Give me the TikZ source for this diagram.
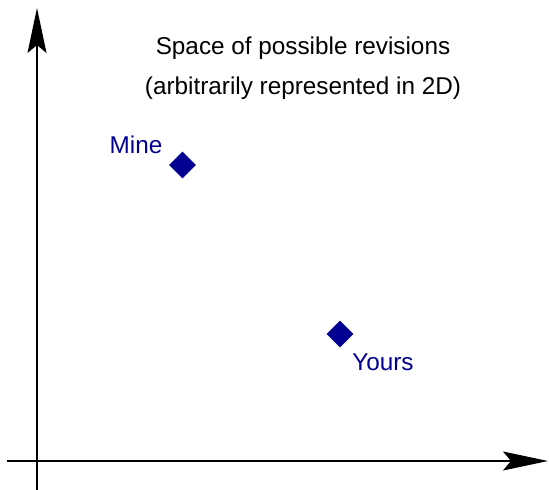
\documentclass[tikz,border=0pt]{standalone}
\usepackage{fontspec}
\setmainfont{Liberation Sans}
\usetikzlibrary{arrows.meta,shapes.geometric}
\definecolor{revblue}{RGB}{0,0,145}
\begin{document}
\begin{tikzpicture}[x=1pt,y=-1pt,
  axis/.style={line width=1.6pt,-{Stealth[length=45pt,width=19pt,inset=8pt]}},
  rev/.style={diamond,fill=revblue,inner sep=0pt,minimum width=27pt,minimum height=27pt},
  lbl/.style={text=revblue,font=\fontsize{24.3}{29}\selectfont,inner sep=0pt},
  ttl/.style={font=\fontsize{24.3}{40}\selectfont,align=center,inner sep=0pt}]
\useasboundingbox (0,0) rectangle (549,490);
\coordinate (ys) at (37,490);
\coordinate (ye) at (37,8);
\coordinate (xs) at (7,461);
\coordinate (xe) at (548,461);
\draw[axis] (ys) -- (ye);
\draw[axis] (xs) -- (xe);
\node[ttl] (title) at (303,68) {Space of possible revisions\\(arbitrarily represented in 2D)};
\node[rev] (mine) at (182.5,165) {};
\node[rev] (yours) at (340,334) {};
\node[lbl] (minel) at (136,145) {Mine};
\node[lbl] (yoursl) at (383,362) {Yours};
\end{tikzpicture}
\end{document}
